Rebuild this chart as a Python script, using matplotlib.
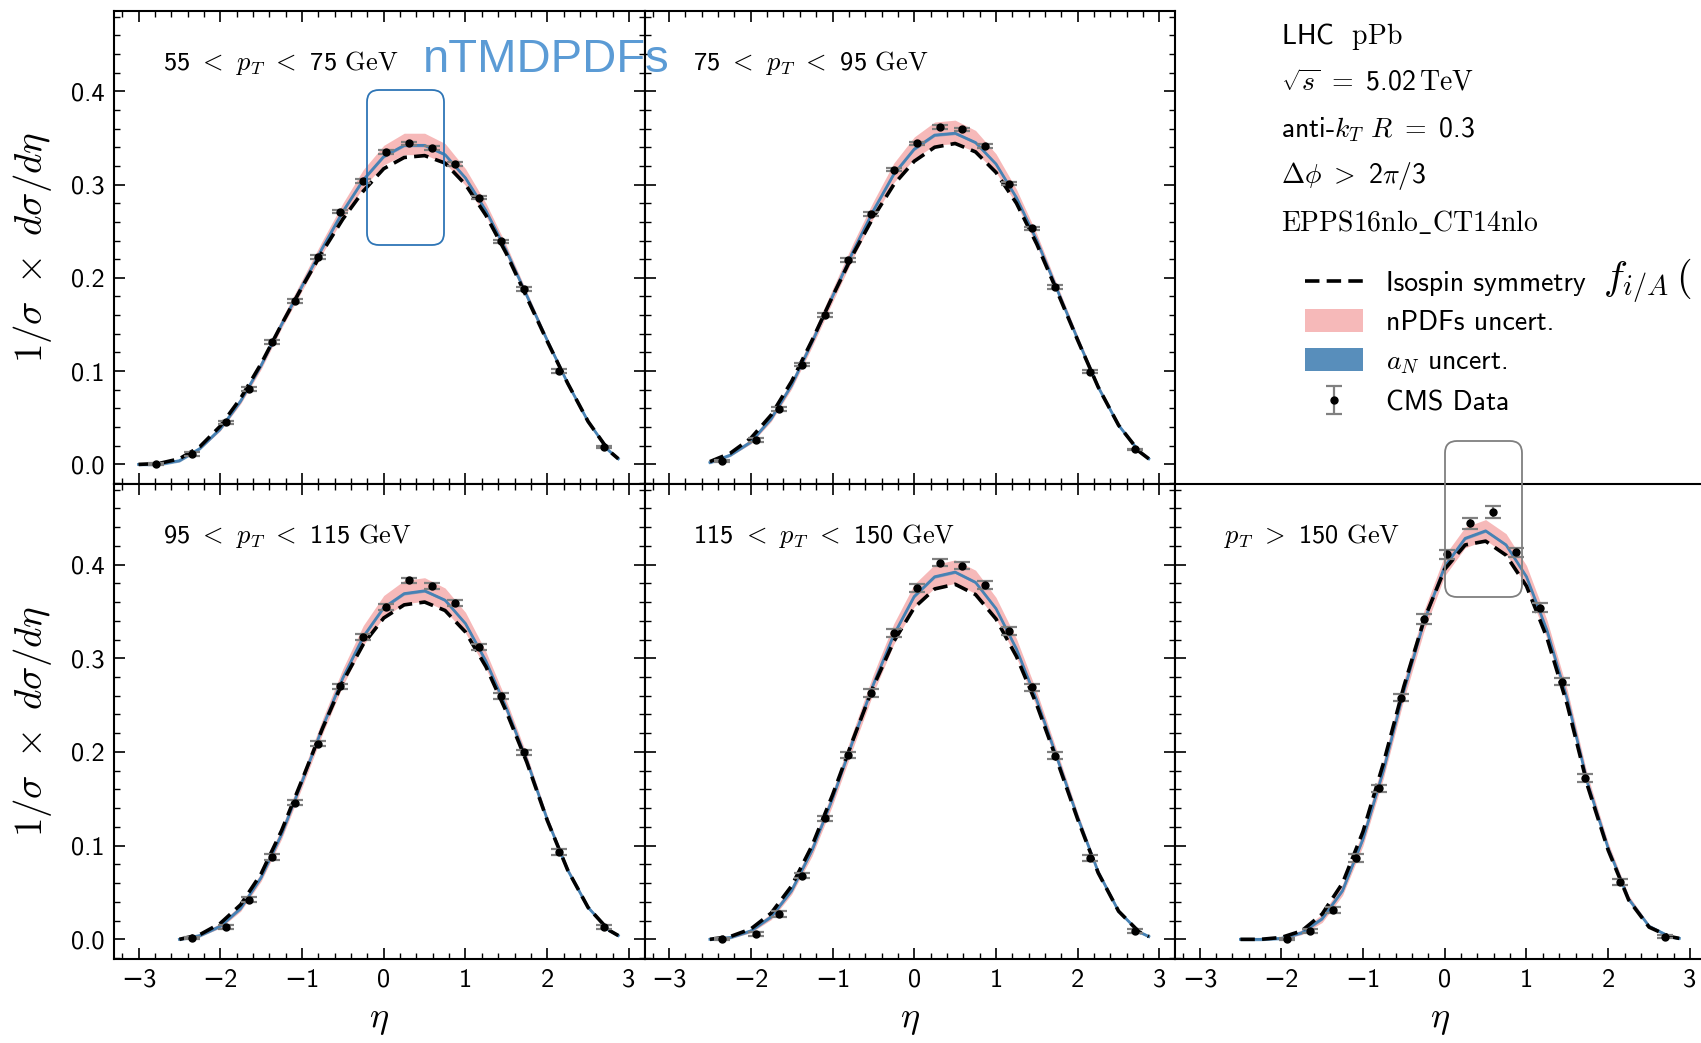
import matplotlib
matplotlib.use("Agg")
import matplotlib.pyplot as plt
import matplotlib.patches as mpatches
from matplotlib.lines import Line2D
from matplotlib.ticker import MultipleLocator, FixedLocator
from matplotlib.transforms import IdentityTransform
import numpy as np

plt.rcParams['mathtext.fontset'] = 'cm'
plt.rcParams['font.family'] = ['cmss10', 'DejaVu Sans']
plt.rcParams['axes.unicode_minus'] = True

# eta grid of the theory curves
eta_grid = [-2.5, -2.25, -2.0, -1.75, -1.5, -1.25, -1.0, -0.75, -0.5, -0.25, 0.0,
            0.25, 0.5, 0.75, 1.0, 1.25, 1.5, 1.75, 2.0, 2.25, 2.5, 2.75, 2.87]
eta_grid_low = [-3.0, -2.75] + eta_grid

# isospin symmetry (dashed)
iso_55_75 = [0.0, 0.001, 0.006, 0.019, 0.041, 0.071, 0.108, 0.150, 0.190, 0.228, 0.263, 0.293,
             0.317, 0.329, 0.331, 0.323, 0.300, 0.267, 0.226, 0.179, 0.132, 0.087, 0.046, 0.015, 0.006]
iso_75_95 = [0.003, 0.012, 0.028, 0.053, 0.089, 0.133, 0.180, 0.225, 0.265, 0.300, 0.325,
             0.340, 0.344, 0.335, 0.313, 0.280, 0.236, 0.185, 0.133, 0.083, 0.042, 0.014, 0.006]
iso_95_115 = [0.000, 0.005, 0.017, 0.037, 0.070, 0.116, 0.170, 0.225, 0.275, 0.315, 0.343,
              0.357, 0.360, 0.351, 0.328, 0.291, 0.243, 0.189, 0.127, 0.074, 0.034, 0.010, 0.004]
iso_115_150 = [0.000, 0.003, 0.011, 0.028, 0.057, 0.100, 0.154, 0.213, 0.270, 0.318, 0.354,
               0.374, 0.379, 0.368, 0.342, 0.302, 0.250, 0.190, 0.128, 0.071, 0.030, 0.008, 0.003]
iso_150 = [0.000, 0.000, 0.002, 0.009, 0.027, 0.060, 0.115, 0.188, 0.270, 0.342, 0.395,
           0.421, 0.425, 0.410, 0.377, 0.322, 0.250, 0.163, 0.095, 0.042, 0.013, 0.003, 0.001]

# nTMD central prediction (blue)
cen_55_75 = [0.0, 0.0, 0.004, 0.017, 0.038, 0.068, 0.106, 0.150, 0.191, 0.232, 0.271, 0.305,
             0.330, 0.342, 0.342, 0.332, 0.307, 0.272, 0.229, 0.181, 0.133, 0.087, 0.046, 0.015, 0.006]
cen_75_95 = [0.002, 0.010, 0.024, 0.049, 0.085, 0.131, 0.180, 0.228, 0.272, 0.311, 0.338,
             0.353, 0.355, 0.345, 0.322, 0.286, 0.240, 0.187, 0.134, 0.083, 0.042, 0.014, 0.006]
cen_95_115 = [0.000, 0.004, 0.014, 0.033, 0.066, 0.112, 0.168, 0.226, 0.279, 0.323, 0.354,
              0.369, 0.372, 0.362, 0.337, 0.297, 0.247, 0.191, 0.128, 0.074, 0.034, 0.010, 0.004]
cen_115_150 = [0.000, 0.002, 0.009, 0.024, 0.052, 0.095, 0.150, 0.212, 0.272, 0.325, 0.366,
               0.387, 0.392, 0.381, 0.353, 0.310, 0.255, 0.193, 0.130, 0.072, 0.030, 0.008, 0.003]
cen_150 = [0.000, 0.000, 0.001, 0.007, 0.022, 0.052, 0.107, 0.180, 0.265, 0.340, 0.398,
           0.428, 0.436, 0.421, 0.387, 0.330, 0.256, 0.166, 0.097, 0.043, 0.014, 0.003, 0.001]

# nPDF uncertainty band, offsets above / below the central curve
up_55_75 = [0.0, 0.0, 0.001, 0.002, 0.003, 0.004, 0.005, 0.006, 0.007, 0.008, 0.009, 0.011,
            0.012, 0.013, 0.013, 0.012, 0.010, 0.008, 0.006, 0.004, 0.003, 0.002, 0.001, 0.0, 0.0]
dn_55_75 = [0.0, 0.0, 0.001, 0.001, 0.002, 0.003, 0.004, 0.004, 0.005, 0.006, 0.007, 0.008,
            0.009, 0.010, 0.010, 0.009, 0.008, 0.006, 0.005, 0.004, 0.003, 0.002, 0.001, 0.0, 0.0]
up_75_95 = [0.001, 0.002, 0.003, 0.004, 0.005, 0.007, 0.008, 0.009, 0.010, 0.012, 0.013,
            0.014, 0.014, 0.013, 0.011, 0.009, 0.007, 0.005, 0.004, 0.003, 0.002, 0.001, 0.0]
dn_75_95 = [0.001, 0.001, 0.002, 0.003, 0.004, 0.005, 0.006, 0.007, 0.008, 0.009, 0.010,
            0.011, 0.011, 0.010, 0.009, 0.007, 0.006, 0.004, 0.003, 0.002, 0.001, 0.001, 0.0]
up_95_115 = [0.001, 0.002, 0.003, 0.004, 0.005, 0.007, 0.008, 0.009, 0.010, 0.012, 0.013,
             0.014, 0.014, 0.013, 0.012, 0.010, 0.008, 0.006, 0.004, 0.003, 0.002, 0.001, 0.0]
dn_95_115 = [0.001, 0.001, 0.002, 0.003, 0.004, 0.005, 0.006, 0.007, 0.008, 0.009, 0.010,
             0.011, 0.011, 0.011, 0.010, 0.008, 0.006, 0.005, 0.003, 0.002, 0.001, 0.001, 0.0]
up_115_150 = [0.0, 0.001, 0.002, 0.004, 0.005, 0.007, 0.008, 0.010, 0.011, 0.012, 0.013,
              0.013, 0.013, 0.013, 0.012, 0.011, 0.009, 0.007, 0.005, 0.003, 0.002, 0.001, 0.0]
dn_115_150 = [0.0, 0.001, 0.002, 0.003, 0.004, 0.006, 0.007, 0.008, 0.009, 0.010, 0.011,
              0.012, 0.012, 0.012, 0.011, 0.009, 0.008, 0.006, 0.004, 0.003, 0.001, 0.001, 0.0]
up_150 = [0.0, 0.0, 0.001, 0.003, 0.005, 0.007, 0.009, 0.011, 0.012, 0.012, 0.012,
          0.012, 0.012, 0.012, 0.012, 0.011, 0.010, 0.008, 0.006, 0.004, 0.002, 0.001, 0.0]
dn_150 = [0.0, 0.0, 0.001, 0.002, 0.004, 0.005, 0.007, 0.008, 0.009, 0.010, 0.010,
          0.010, 0.010, 0.010, 0.010, 0.009, 0.008, 0.006, 0.004, 0.003, 0.001, 0.001, 0.0]

# CMS data
eta_cms = [-2.79, -2.35, -1.93, -1.65, -1.37, -1.09, -0.81, -0.53, -0.25, 0.03,
           0.31, 0.59, 0.87, 1.16, 1.44, 1.72, 2.15, 2.70]
cms_55_75 = [0.000, 0.0115, 0.045, 0.081, 0.131, 0.175, 0.222, 0.271, 0.304, 0.335,
             0.344, 0.339, 0.322, 0.286, 0.239, 0.188, 0.100, 0.0186]
cms_75_95 = [0.0036, 0.026, 0.059, 0.107, 0.160, 0.219, 0.2685, 0.316, 0.344,
             0.362, 0.359, 0.341, 0.301, 0.253, 0.190, 0.0995, 0.016]
cms_95_115 = [0.0015, 0.0135, 0.0425, 0.088, 0.146, 0.209, 0.270, 0.323, 0.355,
              0.383, 0.377, 0.359, 0.312, 0.260, 0.1996, 0.0934, 0.013]
cms_115_150 = [0.000, 0.006, 0.027, 0.068, 0.129, 0.197, 0.263, 0.327, 0.375,
               0.402, 0.399, 0.378, 0.329, 0.269, 0.196, 0.087, 0.0085]
cms_150 = [0.000, 0.009, 0.031, 0.087, 0.161, 0.258, 0.342, 0.411,
           0.444, 0.456, 0.413, 0.354, 0.275, 0.172, 0.061, 0.003]
err_55_75 = [0.001, 0.002, 0.002, 0.002, 0.002, 0.002, 0.002, 0.002, 0.002, 0.002,
             0.002, 0.002, 0.002, 0.002, 0.002, 0.002, 0.002, 0.001]
err_75_95 = [0.001, 0.002, 0.002, 0.002, 0.002, 0.002, 0.002, 0.002, 0.002,
             0.002, 0.002, 0.002, 0.002, 0.002, 0.002, 0.002, 0.001]
err_95_115 = [0.001, 0.002, 0.003, 0.003, 0.003, 0.003, 0.003, 0.003, 0.003,
              0.003, 0.003, 0.003, 0.003, 0.003, 0.003, 0.003, 0.002]
err_115_150 = [0.001, 0.002, 0.003, 0.003, 0.003, 0.003, 0.004, 0.004, 0.004,
               0.004, 0.004, 0.004, 0.004, 0.004, 0.004, 0.003, 0.002]
err_150 = [0.001, 0.002, 0.003, 0.004, 0.004, 0.004, 0.005, 0.005,
           0.006, 0.006, 0.005, 0.005, 0.004, 0.004, 0.003, 0.002]

bin_labels = [r"55 $<$ $p_T$ $<$ 75 $\mathrm{GeV}$",
              r"75 $<$ $p_T$ $<$ 95 $\mathrm{GeV}$",
              r"95 $<$ $p_T$ $<$ 115 $\mathrm{GeV}$",
              r"115 $<$ $p_T$ $<$ 150 $\mathrm{GeV}$",
              r"$p_T$ $>$ 150 $\mathrm{GeV}$"]

panels = [
    (eta_grid_low, iso_55_75, cen_55_75, up_55_75, dn_55_75, 0, cms_55_75, err_55_75),
    (eta_grid, iso_75_95, cen_75_95, up_75_95, dn_75_95, 1, cms_75_95, err_75_95),
    (eta_grid, iso_95_115, cen_95_115, up_95_115, dn_95_115, 1, cms_95_115, err_95_115),
    (eta_grid, iso_115_150, cen_115_150, up_115_150, dn_115_150, 1, cms_115_150, err_115_150),
    (eta_grid, iso_150, cen_150, up_150, dn_150, 2, cms_150, err_150),
]

W, H = 1701, 1043
fig = plt.figure(figsize=(W / 100, H / 100), dpi=100)

col_left = [114, 644.5, 1175]
col_w = 530.5
row_top = [11, 484]
row_h = [473, 475]
slots = [(0, 0), (0, 1), (1, 0), (1, 1), (1, 2)]

pink = 'lightcoral'
blue = 'steelblue'
cms_handle = None

for k, (rc, pan) in enumerate(zip(slots, panels)):
    r, c = rc
    x0 = col_left[c] / W
    y0 = 1 - (row_top[r] + row_h[r]) / H
    ax = fig.add_axes([x0, y0, col_w / W, row_h[r] / H])
    eta_c, iso, cen, up, dn, start, cms, err = pan
    eta_c = np.array(eta_c)
    cen = np.array(cen)
    ax.fill_between(eta_c, cen - np.array(dn), cen + np.array(up), color=pink, alpha=0.55, lw=0)
    ax.fill_between(eta_c, cen - 0.0015, cen + 0.0015, color=blue, alpha=0.6, lw=0)
    ax.plot(eta_c, cen, color=blue, lw=2.0, solid_joinstyle='round')
    ax.plot(eta_c, iso, color='black', lw=2.6, ls=(0, (4, 2)), dash_joinstyle='round')
    cont = ax.errorbar(eta_cms[start:], cms, yerr=err, fmt='o', color='black', ms=5,
                       ecolor='grey', elinewidth=1.6, capsize=6, capthick=1.6)
    if cms_handle is None:
        cms_handle = cont

    ax.set_xlim(-3.3, 3.19)
    ax.set_ylim(-0.021, 0.486)
    ax.xaxis.set_major_locator(FixedLocator([-3, -2, -1, 0, 1, 2, 3]))
    ax.xaxis.set_minor_locator(MultipleLocator(0.2))
    ax.yaxis.set_major_locator(FixedLocator([0.0, 0.1, 0.2, 0.3, 0.4]))
    ax.yaxis.set_minor_locator(MultipleLocator(0.02))
    ax.tick_params(which='both', direction='in', top=(k != 4), right=(k != 4))
    ax.tick_params(which='major', length=8, width=1.2, labelsize=19, pad=7)
    ax.tick_params(which='minor', length=4, width=1.0)
    for s in ax.spines.values():
        s.set_linewidth(1.5)
    if r == 0:
        ax.tick_params(labelbottom=False)
    else:
        ax.set_xlabel(r"$\eta$", fontsize=26)
        ax.xaxis.set_label_coords(0.5, -0.095)
    if c == 0:
        ax.set_ylabel(r"$1/\sigma\ \times\ d\sigma/d\eta$", fontsize=28)
        ax.yaxis.set_label_coords(-0.113, 0.5)
    else:
        ax.tick_params(labelleft=False)
    ax.text(0.092, 0.89, bin_labels[k], transform=ax.transAxes, fontsize=19, va='center')

# run information
info = [r"LHC  $\mathrm{pPb}$",
        r"$\sqrt{s}\ =\ $5.02$\,\mathrm{TeV}$",
        r"anti-$k_T\ R\ =\ $0.3",
        r"$\Delta\phi\ >\ $2$\pi$/3",
        r"$\mathrm{EPPS16nlo\_CT14nlo}$"]
for i, line in enumerate(info):
    fig.text(1281 / W, 1 - (36 + 46.6 * i) / H, line, fontsize=20, va='center')

handles = [Line2D([], [], color='black', lw=2.6, ls=(0, (4, 2))),
           mpatches.Patch(color=pink, alpha=0.55, lw=0),
           mpatches.Patch(color=blue, alpha=0.9, lw=0),
           cms_handle]
labels = ["Isospin symmetry", "nPDFs uncert.", r"$a_N$ uncert.", "CMS Data"]
fig.legend(handles, labels, loc='upper left', bbox_to_anchor=(1305 / W, 1 - 270 / H),
           frameon=False, fontsize=20, handlelength=2.1, handleheight=0.9,
           handletextpad=0.8, labelspacing=0.47, borderpad=0, borderaxespad=0)

# slide annotations
fig.text(423 / W, 1 - 72 / H, "nTMDPDFs", color='#5B9BD5', fontsize=34,
         family='Liberation Sans', va='baseline', ha='left')
fig.text(1603 / W, 1 - 281 / H, r"$f_{i/A}\,($", fontsize=29, va='center')
box1 = mpatches.FancyBboxPatch((367, H - 245), 77, 155, boxstyle="round,pad=0,rounding_size=12",
                               transform=IdentityTransform(), fill=False, ec='#2E75B6', lw=1.3)
box2 = mpatches.FancyBboxPatch((1445, H - 597), 77, 156, boxstyle="round,pad=0,rounding_size=12",
                               transform=IdentityTransform(), fill=False, ec='#7F7F7F', lw=1.3)
fig.patches.extend([box1, box2])

fig.savefig("out.png", dpi=100)
